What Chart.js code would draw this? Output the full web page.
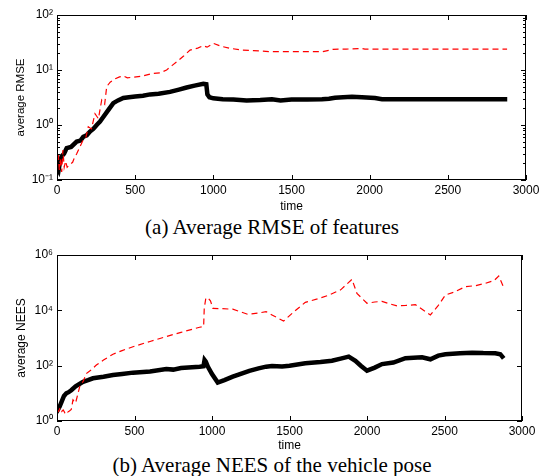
<!DOCTYPE html>
<html lang="en">
<head>
<meta charset="utf-8">
<title>Average RMSE / NEES</title>
<script src="https://cdn.jsdelivr.net/npm/chart.js"></script>
<style>
  body { margin: 0; background: #fff; }
  .wrap { position: relative; width: 544px; height: 476px; }
  canvas { position: absolute; left: 0; }
  .cap { position: absolute; left: 0; width: 544px; text-align: center;
         font-family: "Liberation Serif", "Times New Roman", serif; font-size: 21px; color: #000; }
</style>
</head>
<body>
<div class="wrap">
  <canvas id="rmseChart" width="544" height="214" style="top:0"></canvas>
  <div class="cap" style="top:215px">(a) Average RMSE of features</div>
  <canvas id="neesChart" width="544" height="213" style="top:240px"></canvas>
  <div class="cap" style="top:453px">(b) Average NEES of the vehicle pose</div>
</div>
<script>
// (a) average RMSE of features
const rmseRedTime = [0, 8, 15, 22, 30, 38, 46, 55, 65, 80, 100, 108, 126, 150, 168, 185, 200, 220, 243, 265, 286, 305, 318, 340, 371, 400, 424, 450, 488, 550, 616, 660, 701, 735, 765, 810, 851, 900, 936, 960, 1000, 1050, 1107, 1180, 1256, 1375, 1500, 1673, 1700, 1765, 1850, 1950, 1970, 2100, 2229, 2400, 2600, 2879];
const rmseRed = [0.2, 0.3, 0.15, 0.25, 0.14, 0.35, 0.17, 0.22, 0.17, 0.19, 0.21, 0.24, 0.3, 0.42, 0.54, 0.6, 0.93, 0.85, 1.6, 1.3, 2.85, 2.4, 5.0, 6.0, 6.9, 7.5, 7.8, 7.2, 7.4, 7.8, 8.7, 8.9, 10, 12, 14, 18, 23, 25, 27.7, 26, 30.5, 27, 24.8, 23, 22.5, 21.5, 21.5, 21.5, 21.5, 23.8, 24, 24.7, 24, 24, 24, 24, 24, 24];
const rmseBlackTime = [0, 10, 20, 30, 45, 62, 90, 126, 150, 168, 190, 211, 232, 254, 275, 296, 330, 360, 390, 424, 460, 500, 550, 595, 650, 723, 780, 829, 880, 936, 955, 962, 975, 1000, 1060, 1128, 1213, 1300, 1375, 1430, 1500, 1600, 1695, 1740, 1778, 1830, 1887, 1950, 2034, 2079, 2200, 2400, 2600, 2800, 2880];
const rmseBlack = [0.17, 0.15, 0.22, 0.27, 0.3, 0.38, 0.4, 0.5, 0.52, 0.61, 0.65, 0.76, 0.85, 1.0, 1.15, 1.4, 1.9, 2.5, 2.8, 3.1, 3.2, 3.3, 3.4, 3.6, 3.7, 4.0, 4.4, 4.8, 5.2, 5.6, 5.5, 3.6, 3.2, 3.05, 2.95, 2.9, 2.8, 2.85, 2.93, 2.8, 2.9, 2.9, 2.95, 3.0, 3.14, 3.2, 3.27, 3.2, 3.1, 2.95, 2.95, 2.95, 2.95, 2.95, 2.95];

// (b) average NEES of the vehicle pose
const neesRedTime = [0, 10, 20, 30, 40, 50, 60, 70, 80, 92, 103, 120, 146, 170, 189, 220, 254, 300, 361, 420, 490, 600, 705, 800, 920, 946, 950, 960, 973, 990, 1006, 1060, 1134, 1231, 1300, 1349, 1387, 1462, 1530, 1602, 1680, 1752, 1830, 1903, 1935, 2000, 2050, 2097, 2150, 2194, 2250, 2312, 2409, 2460, 2506, 2560, 2635, 2700, 2764, 2820, 2850, 2887];
const neesRed = [2.5, 2.2, 3, 2.2, 2.5, 2, 2.4, 2.1, 2.3, 2.6, 5.8, 4.5, 17, 28, 52, 70, 105, 160, 260, 350, 485, 750, 1130, 1600, 2450, 2600, 12000, 27000, 29000, 22000, 11800, 11500, 11000, 7200, 8000, 8900, 6800, 4100, 9000, 19500, 26000, 35000, 55000, 132000, 41000, 18000, 20000, 21000, 17000, 14500, 15000, 16000, 6800, 15000, 36000, 45000, 72000, 78000, 95000, 120000, 174000, 57000];
const neesBlackTime = [0, 10, 17, 30, 45, 60, 75, 92, 120, 168, 200, 232, 300, 361, 420, 490, 600, 705, 750, 800, 920, 945, 952, 960, 973, 1000, 1037, 1080, 1134, 1190, 1241, 1300, 1349, 1387, 1452, 1500, 1602, 1700, 1774, 1830, 1882, 1925, 1960, 2000, 2050, 2097, 2170, 2248, 2300, 2355, 2409, 2460, 2506, 2600, 2678, 2750, 2828, 2860, 2882];
const neesBlack = [3.8, 2.8, 3.3, 5, 8, 10, 11, 13, 18, 26, 30, 35, 40, 46, 50, 56, 62, 76, 72, 82, 92, 95, 160, 140, 93, 50, 24.5, 30, 40, 52, 65, 80, 92, 97, 93, 100, 122, 135, 150, 180, 212, 150, 100, 66, 85, 114, 130, 186, 195, 200, 170, 230, 257, 280, 295, 285, 282, 260, 183];

const timeTicks = [0, 500, 1000, 1500, 2000, 2500, 3000];
const rmseTicks = [0.1, 1, 10, 100];
const rmseTickLabels = ['10\u207B\u00B9', '10\u2070', '10\u00B9', '10\u00B2'];
const neesTicks = [1, 100, 10000, 1000000];
const neesTickLabels = ['10\u2070', '10\u00B2', '10\u2074', '10\u2076'];

const FONT = '"Liberation Sans", Arial, sans-serif';

function pts(xs, ys) {
  return xs.map((x, i) => ({ x: x, y: ys[i] }));
}

// box around the plot plus inward tick marks (matlab style)
const frame = {
  id: 'frame',
  afterDatasetsDraw(chart, args, opts) {
    const { ctx, chartArea: a, scales } = chart;
    const x = scales.x, y = scales.y;
    ctx.save();
    ctx.strokeStyle = '#000';
    ctx.lineWidth = 1;
    ctx.strokeRect(a.left + 0.5, a.top + 0.5, a.right - a.left - 1, a.bottom - a.top - 1);
    ctx.beginPath();
    timeTicks.forEach(t => {
      const px = Math.round(x.getPixelForValue(t)) + 0.5;
      ctx.moveTo(px, a.bottom); ctx.lineTo(px, a.bottom - 5);
      ctx.moveTo(px, a.top); ctx.lineTo(px, a.top + 5);
    });
    opts.yTicks.forEach(v => {
      const py = Math.round(y.getPixelForValue(v)) + 0.5;
      ctx.moveTo(a.left, py); ctx.lineTo(a.left + 5, py);
      ctx.moveTo(a.right, py); ctx.lineTo(a.right - 5, py);
    });
    if (opts.minor) {
      for (let k = 0; k < opts.yTicks.length - 1; k++) {
        for (let m = 2; m < 10; m++) {
          const py = Math.round(y.getPixelForValue(opts.yTicks[k] * m)) + 0.5;
          ctx.moveTo(a.left, py); ctx.lineTo(a.left + 3, py);
          ctx.moveTo(a.right, py); ctx.lineTo(a.right - 3, py);
        }
      }
    }
    ctx.stroke();
    ctx.restore();
  }
};

function makeChart(id, cfg) {
  return new Chart(document.getElementById(id), {
    type: 'line',
    data: {
      datasets: [{
        data: pts(cfg.redTime, cfg.red),
        borderColor: '#ff0000',
        borderWidth: 1.2,
        borderDash: [6, 4],
        pointRadius: 0,
        tension: 0
      }, {
        data: pts(cfg.blackTime, cfg.black),
        borderColor: '#000000',
        borderWidth: 4.5,
        pointRadius: 0,
        tension: 0
      }]
    },
    options: {
      responsive: false,
      animation: false,
      layout: { padding: { left: 14, right: cfg.padRight, top: 15, bottom: 0 } },
      plugins: {
        legend: { display: false },
        tooltip: { enabled: false },
        frame: { yTicks: cfg.yTicks, minor: cfg.minor }
      },
      scales: {
        x: {
          type: 'linear',
          min: 0, max: 3000,
          grid: { display: false, drawTicks: false },
          border: { display: false },
          afterBuildTicks: s => { s.ticks = timeTicks.map(v => ({ value: v })); },
          afterFit: s => { s.height = cfg.xHeight; },
          ticks: {
            color: '#000', font: { family: FONT, size: 12 }, padding: 3, maxRotation: 0,
            callback: v => String(v)
          },
          title: { display: true, text: 'time', color: '#000', font: { family: FONT, size: 12 }, padding: 0 }
        },
        y: {
          type: 'logarithmic',
          min: cfg.yTicks[0], max: cfg.yTicks[cfg.yTicks.length - 1],
          grid: { display: false, drawTicks: false },
          border: { display: false },
          afterBuildTicks: s => { s.ticks = cfg.yTicks.map(v => ({ value: v })); },
          afterFit: s => { s.width = 43; },
          ticks: {
            color: '#000', font: { family: FONT, size: 12 }, padding: 4,
            callback: (v) => cfg.yLabels[cfg.yTicks.indexOf(v)]
          },
          title: { display: true, text: cfg.yTitle, color: '#000', font: { family: FONT, size: cfg.yTitleSize }, padding: 0 }
        }
      }
    },
    plugins: [frame]
  });
}

makeChart('rmseChart', {
  redTime: rmseRedTime, red: rmseRed,
  blackTime: rmseBlackTime, black: rmseBlack,
  yTicks: rmseTicks, yLabels: rmseTickLabels, minor: true,
  yTitle: 'average RMSE', yTitleSize: 11.5,
  padRight: 18, xHeight: 34
});

makeChart('neesChart', {
  redTime: neesRedTime, red: neesRed,
  blackTime: neesBlackTime, black: neesBlack,
  yTicks: neesTicks, yLabels: neesTickLabels, minor: false,
  yTitle: 'average NEES', yTitleSize: 12,
  padRight: 22, xHeight: 32
});
</script>
</body>
</html>
